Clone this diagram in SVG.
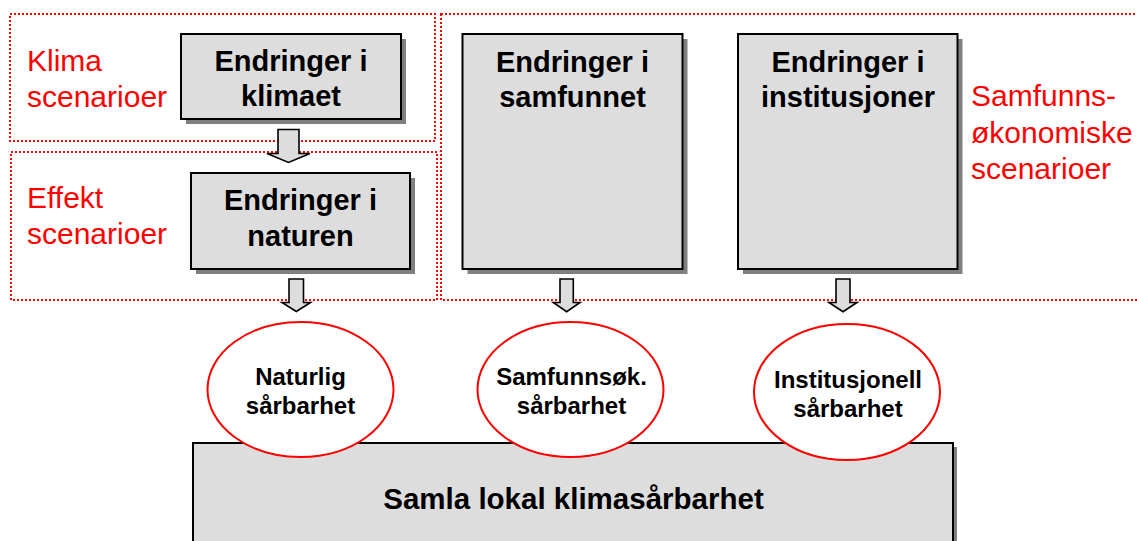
<svg xmlns="http://www.w3.org/2000/svg" width="1137" height="541" viewBox="0 0 1137 541">
<style>
.zone{fill:none;stroke:#ff0000;stroke-width:2;stroke-dasharray:2 2}
.shadow{fill:#808080}
.box{fill:#dddddd;stroke:#000;stroke-width:2}
.arrow{fill:#dddddd;stroke:#000;stroke-width:1.6;stroke-linejoin:miter}
.ell{fill:#fff;stroke:#ff0000;stroke-width:2}
.red{font-family:"Liberation Sans",Arial,sans-serif;font-size:30px;fill:#ff0000}
.bl{font-family:"Liberation Sans",Arial,sans-serif;font-weight:bold;font-size:29px;fill:#000;text-anchor:middle}
.el{font-family:"Liberation Sans",Arial,sans-serif;font-weight:bold;font-size:24px;fill:#000;text-anchor:middle}
.bt{font-family:"Liberation Sans",Arial,sans-serif;font-weight:bold;font-size:29.5px;fill:#000;text-anchor:middle}
</style>
<rect width="1137" height="541" fill="#fff"/>

<g id="zone-klima">
<rect class="zone" x="10" y="14" width="425" height="127"/>
<text class="red" x="27" y="71">Klima</text>
<text class="red" x="27" y="107">scenarioer</text>
</g>
<g id="zone-effekt">
<rect class="zone" x="11" y="152" width="426" height="148"/>
<text class="red" x="27" y="208">Effekt</text>
<text class="red" x="27" y="244">scenarioer</text>
</g>
<g id="zone-samfunn">
<rect class="zone" x="441" y="14" width="705" height="286"/>
<text class="red" x="971" y="106">Samfunns-</text>
<text class="red" x="971" y="143">økonomiske</text>
<text class="red" x="971" y="179">scenarioer</text>
</g>

<g id="connectors">
<path class="arrow" d="M278,129.5 H299 V153.5 H310 L288.5,162.5 L267,153.5 H278 Z"/>
<path class="arrow" d="M289,279 H303.5 V302.5 H310.5 L296.3,311.5 L282,302.5 H289 Z"/>
<path class="arrow" d="M560,279 H573.3 V302.5 H580 L566.7,311.7 L553.3,302.5 H560 Z"/>
<path class="arrow" d="M836,279 H850 V302.5 H857 L843,311.7 L829,302.5 H836 Z"/>
</g>

<g id="node-klimaet">
<rect class="shadow" x="186" y="39" width="220" height="85"/>
<rect class="box" x="181" y="34" width="220" height="85"/>
<text class="bl" x="291" y="71">Endringer i</text>
<text class="bl" x="291" y="106">klimaet</text>
</g>
<g id="node-naturen">
<rect class="shadow" x="196" y="178" width="219" height="96"/>
<rect class="box" x="191" y="173" width="219" height="96"/>
<text class="bl" x="300.5" y="210">Endringer i</text>
<text class="bl" x="300.5" y="246">naturen</text>
</g>
<g id="node-samfunnet">
<rect class="shadow" x="467.5" y="39" width="220" height="235"/>
<rect class="box" x="462.5" y="34" width="220" height="235"/>
<text class="bl" x="572.5" y="72">Endringer i</text>
<text class="bl" x="572.5" y="107">samfunnet</text>
</g>
<g id="node-institusjoner">
<rect class="shadow" x="743" y="39" width="219.5" height="235"/>
<rect class="box" x="738" y="34" width="219.5" height="235"/>
<text class="bl" x="848" y="72">Endringer i</text>
<text class="bl" x="848" y="107">institusjoner</text>
</g>

<g id="node-samla">
<rect class="shadow" x="197" y="447" width="760" height="110"/>
<rect class="box" x="193" y="443" width="760" height="110"/>
<text class="bt" x="573.5" y="509">Samla lokal klimasårbarhet</text>
</g>

<g id="node-naturlig">
<ellipse class="ell" cx="300.5" cy="389.5" rx="93" ry="67.5"/>
<text class="el" x="300.5" y="385">Naturlig</text>
<text class="el" x="300.5" y="414">sårbarhet</text>
</g>
<g id="node-samfunnsok">
<ellipse class="ell" cx="570.5" cy="389.5" rx="93" ry="67.5"/>
<text class="el" x="571.5" y="385">Samfunnsøk.</text>
<text class="el" x="571.5" y="414">sårbarhet</text>
</g>
<g id="node-institusjonell">
<ellipse class="ell" cx="847" cy="392" rx="93" ry="68"/>
<text class="el" x="848" y="388">Institusjonell</text>
<text class="el" x="848" y="417">sårbarhet</text>
</g>
</svg>
